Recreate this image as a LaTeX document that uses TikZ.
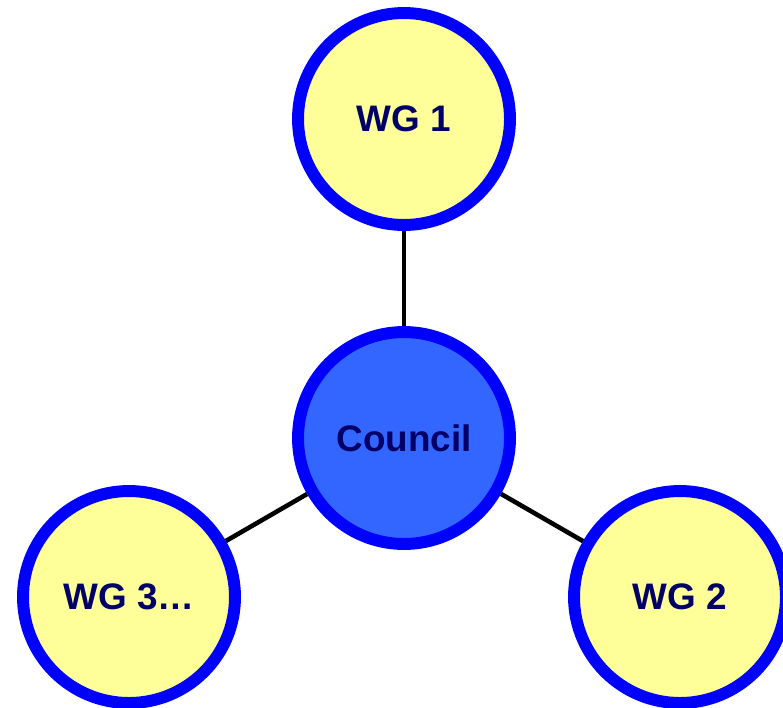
\documentclass[tikz,border=0pt]{standalone}
\usepackage{fontspec}
\setmainfont{Liberation Sans}
\usepackage{tikz}
\usetikzlibrary{shapes, arrows, calc, positioning}

\definecolor{wgyellow}{HTML}{FFFF99}
\definecolor{ringblue}{HTML}{0000FF}
\definecolor{councilblue}{HTML}{3366FF}
\definecolor{labelnavy}{HTML}{000066}

\begin{document}
\begin{tikzpicture}[x=0.02cm, y=-0.02cm]
	\tikzstyle{group} = [draw=ringblue, fill=wgyellow, line width=6.8pt, circle, minimum size=4.24cm, inner sep=0pt, font=\fontsize{21}{25}\selectfont\bfseries, text=labelnavy]
	\tikzstyle{link} = [draw, line width=2.6pt]

	\useasboundingbox (0,0) rectangle (783,707);

	\path
		node[group, fill=councilblue] (council) at (404,438) {Council}
		node[group] (wg1) at (404,119) {WG 1}
		node[group] (wg2) at (680,597) {WG 2}
		node[group] (wg3) at (129,597) {WG 3\ldots}
	;

	\path[link]
		(council) edge (wg1)
		(council) edge (wg2)
		(council) edge (wg3)
	;
\end{tikzpicture}
\end{document}
